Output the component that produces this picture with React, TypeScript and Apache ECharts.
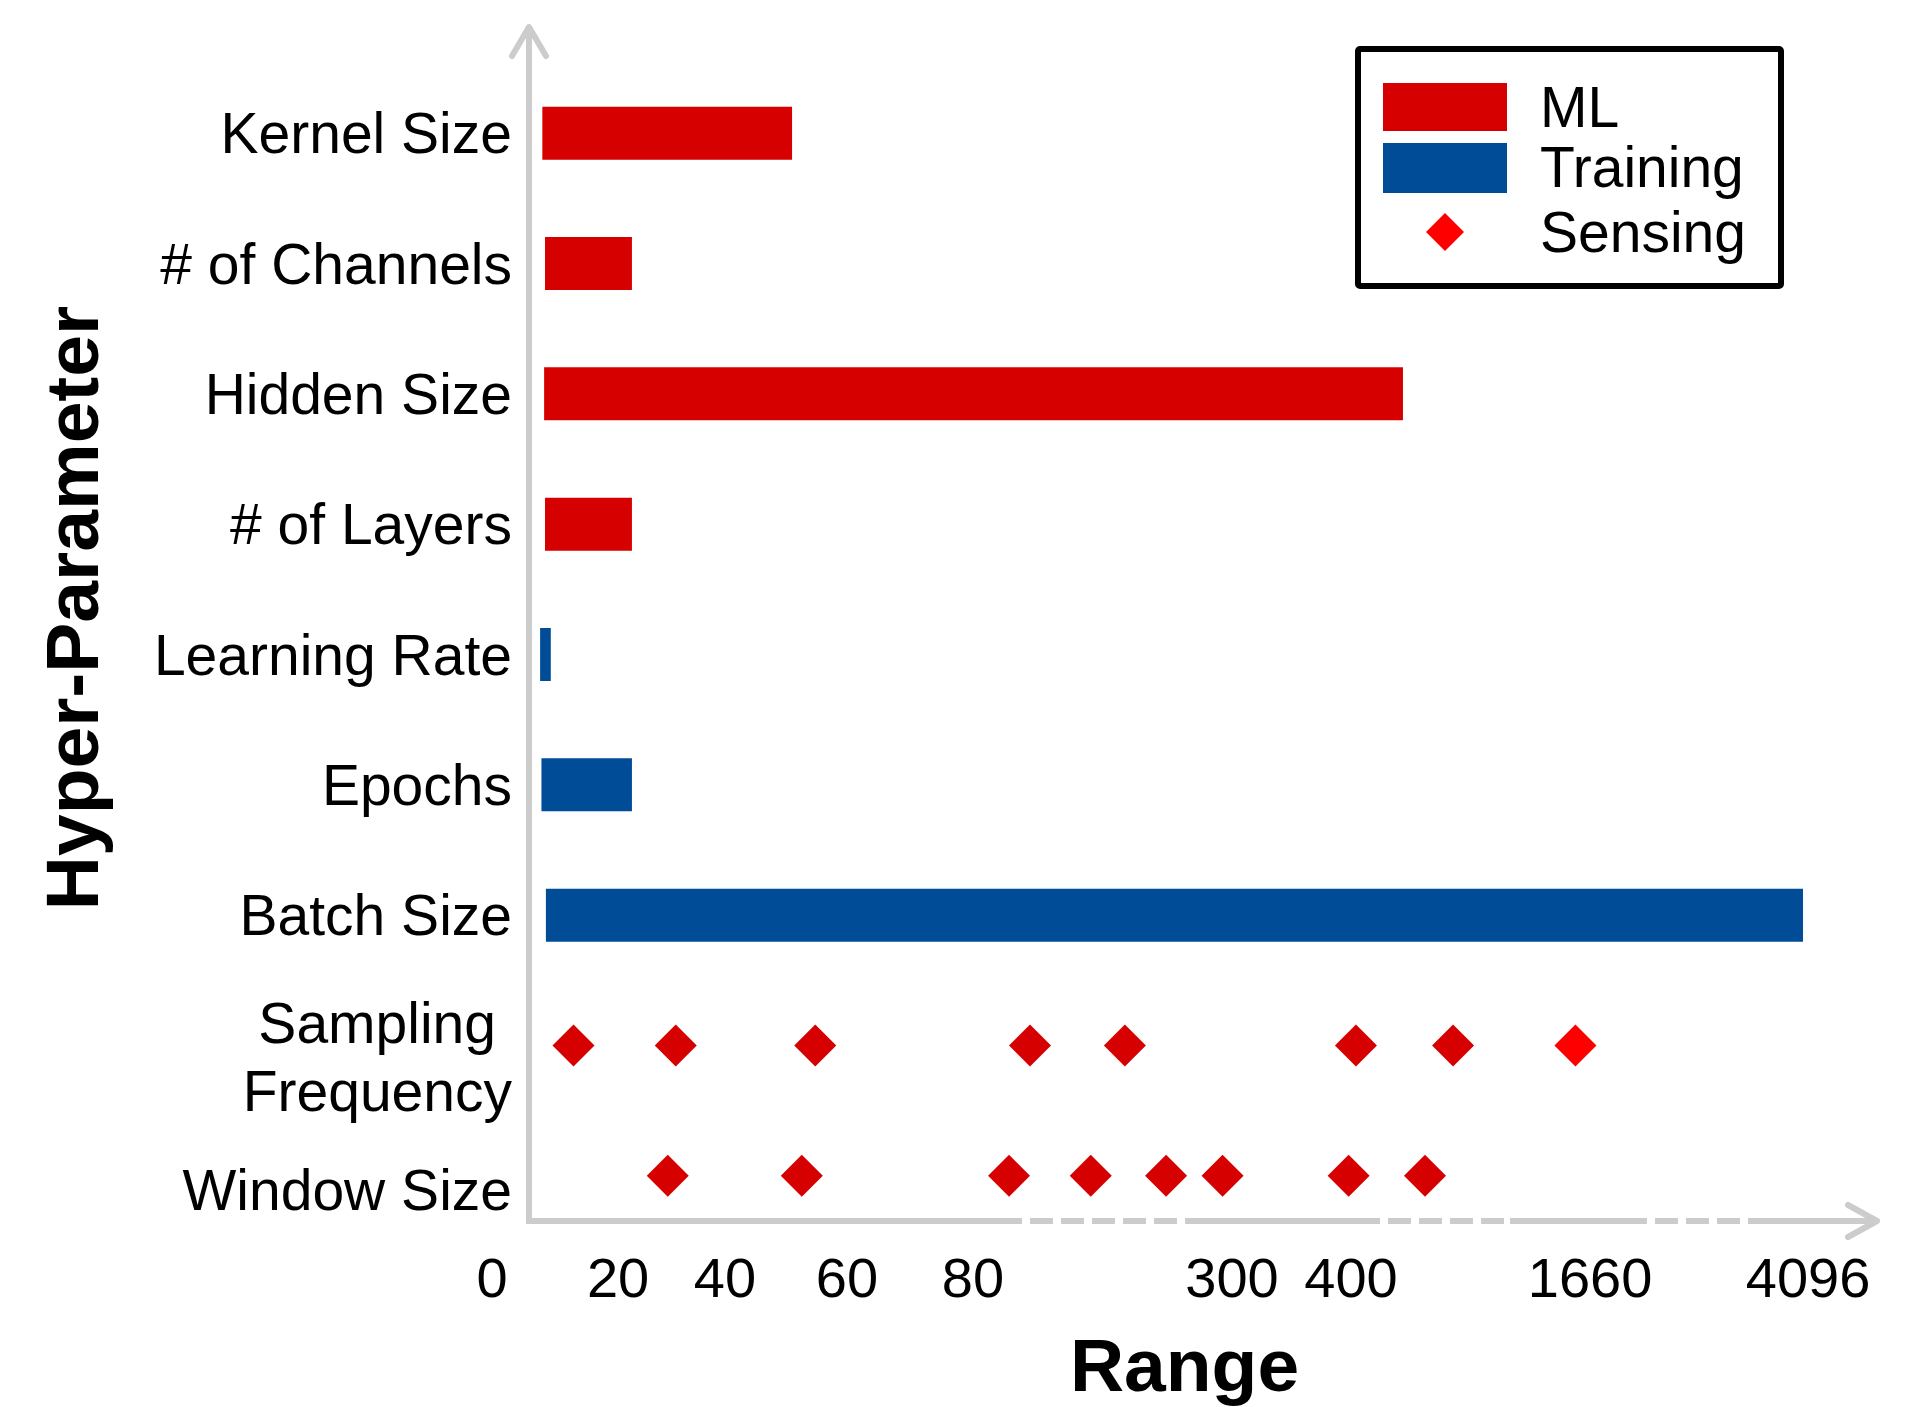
import React, { useEffect, useRef } from 'react';
import * as echarts from 'echarts';

// ---------- data ----------
const CATEGORIES = [
  'Kernel Size',
  '# of Channels',
  'Hidden Size',
  '# of Layers',
  'Learning Rate',
  'Epochs',
  'Batch Size',
  'Sampling Frequency',
  'Window Size',
];
const GROUP = ['ML', 'ML', 'ML', 'ML', 'Training', 'Training', 'Training', 'Sensing', 'Sensing'];
// range bars (low .. high) for ML / Training hyper-parameters
const RANGE_LOW = [3, 3.6, 3.4, 3.6, 2.5, 2.8, 3.8, null, null];
const RANGE_HIGH = [51, 22.6, 674, 22.6, 4.9, 22.6, 4040, null, null];
// sensing hyper-parameters (individual values)
const SAMPLING_FREQUENCY = [10, 30.8, 54.8, 128.4, 209, 426, 938, 1583];
const WINDOW_SIZE = [29.3, 52.6, 110.6, 180, 244, 292, 398, 790];

// broken "Range" axis: tick values and where they sit on a 0..100 axis
const X_TICK_LABELS = ['0', '20', '40', '60', '80', '300', '400', '1660', '4096'];
const X_BREAK_VALUES = [0, 20, 40, 60, 80, 300, 400, 1660, 4096];
const X_BREAK_POS = [2.67, 9.1, 16.82, 25.63, 34.73, 53.43, 62.02, 79.28, 95.02];
const X_MIN = 0;
const X_MAX = 100;

function toPos(v: number): number {
  const n = X_BREAK_VALUES.length;
  for (let i = 0; i < n - 1; i++) {
    const a = X_BREAK_VALUES[i];
    const b = X_BREAK_VALUES[i + 1];
    if (v <= b || i === n - 2) {
      const t = (v - a) / (b - a);
      return X_BREAK_POS[i] + t * (X_BREAK_POS[i + 1] - X_BREAK_POS[i]);
    }
  }
  return X_BREAK_POS[n - 1];
}

const X_LABEL_POS = X_BREAK_VALUES.map((v, i) => (i === 0 ? X_MIN : toPos(v)));

// ---------- styles ----------
const RED = '#d70000';
const BRIGHT_RED = '#ff0000';
const BLUE = '#004c97';
const AXIS_GRAY = '#cccccc';
const FONT = '"Liberation Sans", Arial, Helvetica, sans-serif';

export default function App() {
  const ref = useRef<HTMLDivElement>(null);

  useEffect(() => {
    if (!ref.current) return;
    const chart = echarts.init(ref.current, null, { renderer: 'svg' });

    const baseData = CATEGORIES.map((_, i) =>
      RANGE_LOW[i] == null ? '-' : toPos(RANGE_LOW[i] as number)
    );
    const lenFor = (g: string) =>
      CATEGORIES.map((_, i) =>
        GROUP[i] === g && RANGE_LOW[i] != null
          ? toPos(RANGE_HIGH[i] as number) - toPos(RANGE_LOW[i] as number)
          : '-'
      );
    const sfIdx = CATEGORIES.indexOf('Sampling Frequency');
    const wsIdx = CATEGORIES.indexOf('Window Size');
    const sensingData: any[] = [
      ...SAMPLING_FREQUENCY.map((v, k) => ({
        value: [toPos(v), sfIdx],
        itemStyle:
          k === SAMPLING_FREQUENCY.length - 1 ? { color: BRIGHT_RED, opacity: 1 } : undefined,
      })),
      ...WINDOW_SIZE.map((v) => ({ value: [toPos(v), wsIdx] })),
    ];

    const axisLine = (x1: number, y1: number, x2: number, y2: number, dashed: boolean) => ({
      type: 'line',
      silent: true,
      shape: { x1, y1, x2, y2 },
      style: {
        stroke: AXIS_GRAY,
        lineWidth: 6,
        lineDash: dashed ? [23, 8] : null,
      },
    });

    const legendText = (text: string, y: number) => ({
      type: 'text',
      silent: true,
      x: 1540,
      y,
      style: {
        text,
        fill: '#000',
        font: `57px ${FONT}`,
        textAlign: 'left',
        textVerticalAlign: 'middle',
        align: 'left',
        verticalAlign: 'middle',
      },
    });

    const option: any = {
      animation: false,
      backgroundColor: '#ffffff',
      grid: { left: 492, right: 44, top: 68, bottom: 162, containLabel: false },
      xAxis: {
        type: 'value',
        min: X_MIN,
        max: X_MAX,
        axisLine: { show: false },
        axisTick: { show: false },
        splitLine: { show: false },
        axisLabel: {
          customValues: X_LABEL_POS,
          margin: 8,
          color: '#000',
          fontSize: 56,
          fontFamily: FONT,
          formatter: (val: number) => {
            const i = X_LABEL_POS.findIndex((p) => Math.abs(p - val) < 1e-6);
            return i >= 0 ? X_TICK_LABELS[i] : '';
          },
        },
        name: 'Range',
        nameLocation: 'middle',
        nameGap: 86,
        nameTextStyle: { color: '#000', fontSize: 75, fontWeight: 'bold', fontFamily: FONT },
      },
      yAxis: {
        type: 'category',
        inverse: true,
        data: CATEGORIES,
        offset: -37,
        axisLine: { show: false },
        axisTick: { show: false },
        splitLine: { show: false },
        axisLabel: {
          margin: 17,
          color: '#000',
          fontSize: 57,
          fontFamily: FONT,
          formatter: (val: string) => {
            if (val === 'Sampling Frequency') return '{e| }\n{s|Sampling}\n{f|Frequency}';
            if (val === 'Window Size') return '{w|Window Size}';
            return val;
          },
          rich: {
            e: { fontSize: 10, fontFamily: FONT, lineHeight: 22 },
            s: { fontSize: 57, fontFamily: FONT, color: '#000', lineHeight: 68, padding: [0, 16, 0, 0] },
            f: { fontSize: 57, fontFamily: FONT, color: '#000', lineHeight: 68 },
            w: { fontSize: 57, fontFamily: FONT, color: '#000', padding: [28, 0, 0, 0] },
          },
        },
      },
      series: [
        {
          name: 'base',
          type: 'bar',
          stack: 'range',
          silent: true,
          barWidth: 53,
          itemStyle: { color: 'rgba(0,0,0,0)' },
          data: baseData,
        },
        {
          name: 'ML',
          type: 'bar',
          stack: 'range',
          barWidth: 53,
          itemStyle: { color: RED },
          data: lenFor('ML'),
        },
        {
          name: 'Training',
          type: 'bar',
          stack: 'range',
          barWidth: 53,
          itemStyle: { color: BLUE },
          data: lenFor('Training'),
        },
        {
          name: 'Sensing',
          type: 'scatter',
          symbol: 'diamond',
          symbolSize: 42,
          itemStyle: { color: RED, opacity: 1 },
          data: sensingData,
          z: 5,
        },
      ],
      graphic: [
        // y axis with arrow
        axisLine(529, 1224, 529, 28, false),
        {
          type: 'polyline',
          silent: true,
          shape: { points: [[512, 56], [529, 27], [546, 56]] },
          style: { stroke: AXIS_GRAY, lineWidth: 6, fill: null, lineCap: 'round', lineJoin: 'round' },
        },
        // broken x axis with arrow
        axisLine(526, 1221, 999, 1221, false),
        axisLine(999, 1221, 1190, 1221, true),
        axisLine(1190, 1221, 1357, 1221, false),
        axisLine(1357, 1221, 1510, 1221, true),
        axisLine(1510, 1221, 1624, 1221, false),
        axisLine(1624, 1221, 1751, 1221, true),
        axisLine(1751, 1221, 1874, 1221, false),
        {
          type: 'polyline',
          silent: true,
          shape: { points: [[1848, 1205], [1877, 1221], [1848, 1237]] },
          style: { stroke: AXIS_GRAY, lineWidth: 6, fill: null, lineCap: 'round', lineJoin: 'round' },
        },
        // y axis title
        {
          type: 'text',
          silent: true,
          x: 72,
          y: 608,
          rotation: Math.PI / 2,
          style: {
            text: 'Hyper-Parameter',
            fill: '#000',
            font: `bold 75px ${FONT}`,
            textAlign: 'center',
            textVerticalAlign: 'middle',
            align: 'center',
            verticalAlign: 'middle',
          },
        },
        // legend
        {
          type: 'group',
          z: 100,
          children: [
            {
              type: 'rect',
              silent: true,
              shape: { x: 1358, y: 49, width: 423, height: 237, r: 2 },
              style: { fill: '#fff', stroke: '#000', lineWidth: 6 },
            },
            {
              type: 'rect',
              silent: true,
              shape: { x: 1383, y: 83, width: 124, height: 48 },
              style: { fill: RED },
            },
            {
              type: 'rect',
              silent: true,
              shape: { x: 1383, y: 143, width: 124, height: 50 },
              style: { fill: BLUE },
            },
            {
              type: 'polygon',
              silent: true,
              shape: { points: [[1445, 213], [1464, 232], [1445, 251], [1426, 232]] },
              style: { fill: BRIGHT_RED },
            },
            legendText('ML', 107),
            legendText('Training', 167),
            legendText('Sensing', 232),
          ],
        },
      ],
    };

    chart.setOption(option);
    return () => chart.dispose();
  }, []);

  return (
    <div
      ref={ref}
      style={{ position: 'absolute', left: 0, top: 0, width: 1921, height: 1407, background: '#fff' }}
    />
  );
}
